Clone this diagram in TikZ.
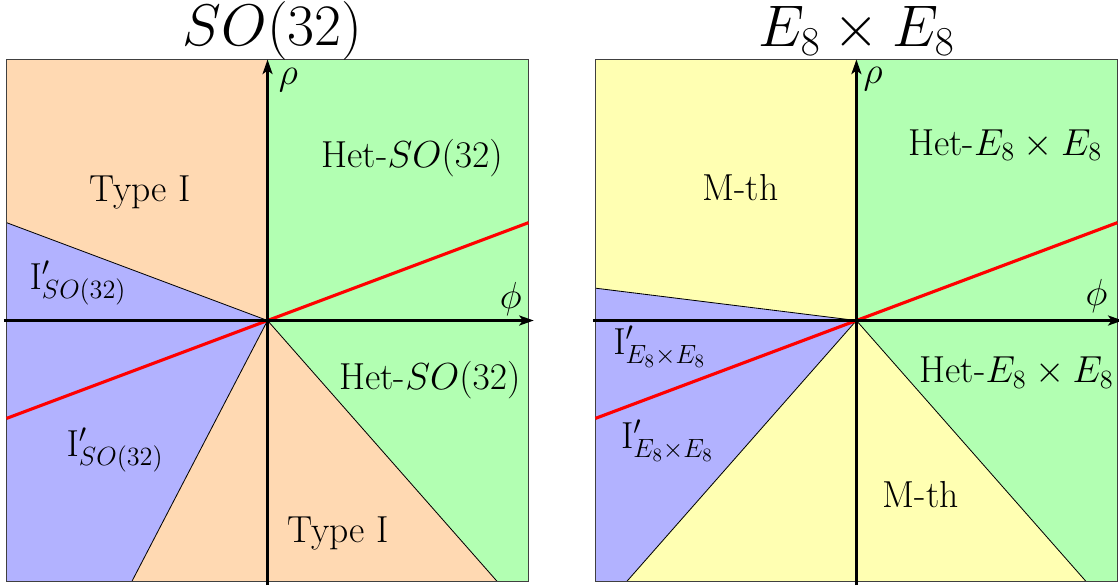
\RequirePackage{fix-cm}
\documentclass[tikz,border=0pt]{standalone}
\usetikzlibrary{arrows.meta}
\definecolor{peach}{rgb}{1,0.85,0.7}
\definecolor{lgreen}{rgb}{0.7,1,0.7}
\definecolor{lblue}{rgb}{0.7,0.7,1}
\definecolor{lyellow}{rgb}{1,1,0.7}
\begin{document}
\begin{tikzpicture}[x=1cm,y=1cm,
  bnd/.style={draw=black,line width=0.45pt},
  frame/.style={draw=black!75,line width=0.9pt},
  axisline/.style={line width=1.2pt,-{Stealth[length=8pt,width=5.5pt,inset=2pt]}},
  redline/.style={draw=red,line width=1.7pt},
  lbl/.style={font=\fontsize{20.5}{24}\selectfont,inner sep=0pt},
  ttl/.style={font=\fontsize{32}{38}\selectfont,inner sep=0pt,anchor=base}]
\useasboundingbox (-5.125,-5.07) rectangle (16.31,6.14);

% ---------- left panel: SO(32) ----------
\begin{scope}
  \coordinate (O1) at (0,0);
  \fill[peach] (-5,5) -- (0,5) -- (0,0) -- (-5,1.875) -- cycle;
  \fill[lgreen] (0,5) -- (5,5) -- (5,-5) -- (4.4,-5) -- (0,0) -- cycle;
  \fill[lblue] (-5,1.875) -- (0,0) -- (-2.6,-5) -- (-5,-5) -- cycle;
  \fill[peach] (0,0) -- (4.4,-5) -- (-2.6,-5) -- cycle;
  \draw[bnd] (O1) -- (-5,1.875);
  \draw[bnd] (O1) -- (-2.6,-5);
  \draw[bnd] (O1) -- (4.4,-5);
  \draw[frame] (-5,-5) rectangle (5,5);
  \draw[redline] (-5,-1.875) -- (5,1.875);
  \coordinate (xl1) at (-5.05,0);
  \coordinate (xr1) at (5.1,0);
  \coordinate (yb1) at (0,-5.07);
  \coordinate (yt1) at (0,5.0);
  \draw[axisline] (xl1) -- (xr1);
  \draw[axisline] (yb1) -- (yt1);
  \node[lbl] (phi1) at (4.66,0.42) {$\phi$};
  \node[lbl] (rho1) at (0.4,4.6) {$\rho$};
  \node[ttl] (t1) at (0.1,5.27) {$SO(32)$};
  \node[lbl] (a1) at (-2.44,2.46) {Type I};
  \node[lbl] (b1) at (2.77,3.11) {Het-$SO(32)$};
  \node[lbl] (c1) at (-3.63,0.72) {$\mathrm{I}'_{SO(32)}$};
  \node[lbl] (d1) at (-2.92,-2.48) {$\mathrm{I}'_{SO(32)}$};
  \node[lbl] (e1) at (3.11,-1.14) {Het-$SO(32)$};
  \node[lbl] (f1) at (1.35,-4.07) {Type I};
\end{scope}

% ---------- right panel: E8 x E8 ----------
\begin{scope}[xshift=11.28cm]
  \coordinate (O2) at (0,0);
  \fill[lyellow] (-5,5) -- (0,5) -- (0,0) -- (-5,0.62) -- cycle;
  \fill[lgreen] (0,5) -- (5,5) -- (5,-5) -- (4.4,-5) -- (0,0) -- cycle;
  \fill[lblue] (-5,0.62) -- (0,0) -- (-4.4,-5) -- (-5,-5) -- cycle;
  \fill[lyellow] (0,0) -- (4.4,-5) -- (-4.4,-5) -- cycle;
  \draw[bnd] (O2) -- (-5,0.62);
  \draw[bnd] (O2) -- (-4.4,-5);
  \draw[bnd] (O2) -- (4.4,-5);
  \draw[frame] (-5,-5) rectangle (5,5);
  \draw[redline] (-5,-1.875) -- (5,1.875);
  \coordinate (xl2) at (-5.05,0);
  \coordinate (xr2) at (5.1,0);
  \coordinate (yb2) at (0,-5.07);
  \coordinate (yt2) at (0,5.0);
  \draw[axisline] (xl2) -- (xr2);
  \draw[axisline] (yb2) -- (yt2);
  \node[lbl] (phi2) at (4.6,0.47) {$\phi$};
  \node[lbl] (rho2) at (0.32,4.62) {$\rho$};
  \node[ttl] (t2) at (0.0,5.25) {$E_8\times E_8$};
  \node[lbl] (a2) at (-2.22,2.54) {M-th};
  \node[lbl] (b2) at (2.85,3.36) {Het-$E_8\times E_8$};
  \node[lbl] (c2) at (-3.77,-0.5) {$\mathrm{I}'_{E_8\times E_8}$};
  \node[lbl] (d2) at (-3.62,-2.3) {$\mathrm{I}'_{E_8\times E_8}$};
  \node[lbl] (e2) at (3.07,-1.0) {Het-$E_8\times E_8$};
  \node[lbl] (f2) at (1.23,-3.34) {M-th};
\end{scope}
\end{tikzpicture}
\end{document}
